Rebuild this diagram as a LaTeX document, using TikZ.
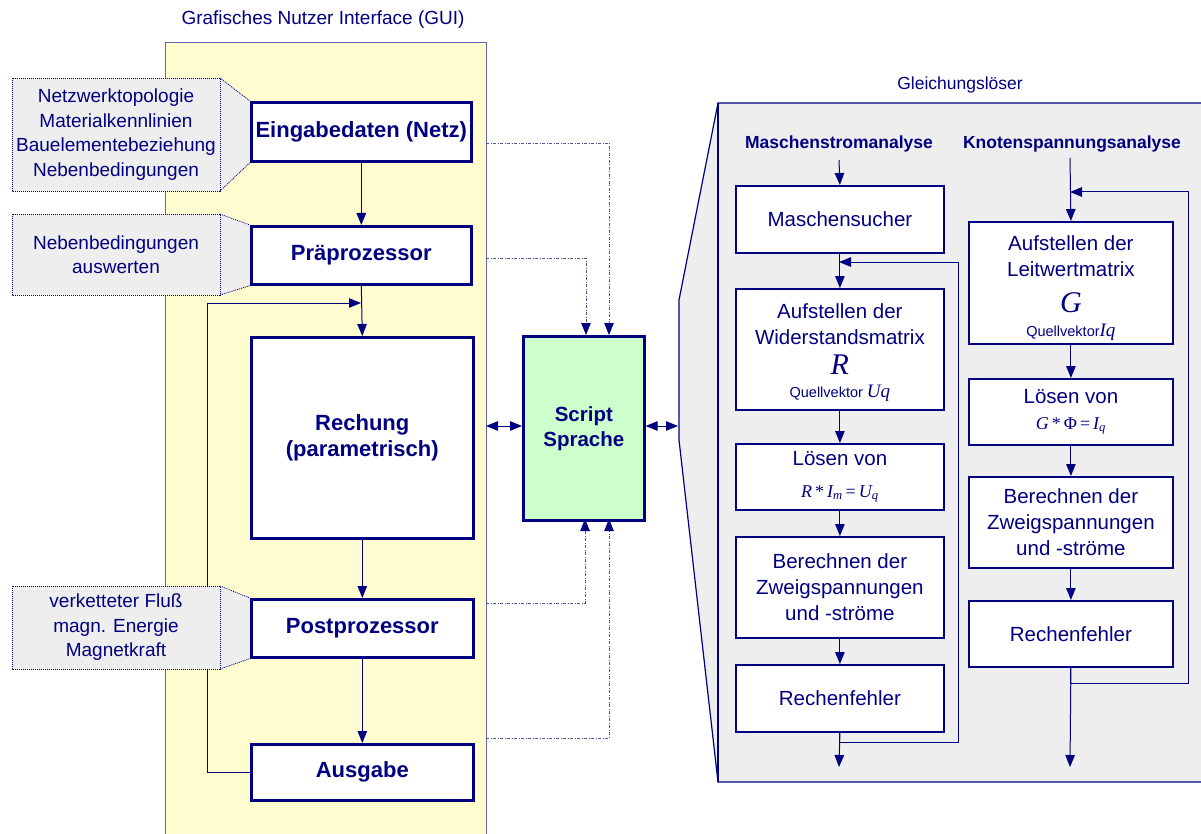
\documentclass[tikz,border=0pt]{standalone}
\usepackage{fontspec}
\setmainfont{Liberation Sans}
\newfontfamily\tms{Liberation Serif}
\usetikzlibrary{arrows.meta}
\definecolor{navy}{RGB}{0,0,128}
\definecolor{guiyel}{RGB}{255,252,208}
\definecolor{callg}{RGB}{238,238,238}
\definecolor{scrg}{RGB}{204,255,204}
\definecolor{framec}{RGB}{100,100,170}
\definecolor{dashc}{RGB}{80,80,160}
\newcommand{\fs}[2]{\fontsize{#1}{#2}\selectfont}
\begin{document}
\begin{tikzpicture}[x=1pt,y=-1pt,
  every node/.style={text=navy},
  tk/.style={draw=navy,line width=2.6pt,fill=white,font=\bfseries\fs{22}{26},inner sep=0pt,align=center},
  tn/.style={draw=navy,line width=1.8pt,fill=white,align=center,font=\fs{20.5}{26},inner sep=0pt},
  tip/.style={-{Triangle[length=12pt,width=9.5pt]}},
  ar/.style={draw=navy,line width=1pt,tip},
  dar/.style={draw=navy,line width=1pt,{Triangle[length=12pt,width=9.5pt]}-{Triangle[length=12pt,width=9.5pt]}},
  dd/.style={draw=dashc,line width=0.8pt,dash pattern=on 3pt off 1.5pt on 1pt off 1.5pt},
  dda/.style={dd,-{Triangle[length=12pt,width=9.5pt,fill=navy,color=navy]}},
  callout/.style={fill=callg},
  cdot/.style={draw=navy,line width=0.8pt,dash pattern=on 1pt off 1pt},
  ctext/.style={align=center,font=\fs{19}{24.5}},
]
\useasboundingbox (0,0) rectangle (1201,834);

% ---------- GUI frame ----------
\node[draw=framec,line width=1pt,fill=guiyel,minimum width=321pt,minimum height=800pt,anchor=north west,inner sep=0pt] (gui) at (165,42) {};
\node[font=\fs{19}{22}] (guititle) at (323,20) {Grafisches Nutzer Interface (GUI)};

\coordinate (gl1) at (207,303);
\coordinate (jG) at (361,303);

% ---------- GUI boxes ----------
\node[tk,minimum width=220pt,minimum height=59pt,anchor=north west] (ein) at (250,101) {Eingabedaten (Netz)};
\node[tk,minimum width=220pt,minimum height=58pt,anchor=north west] (pra) at (250,225) {Präprozessor};
\node[tk,minimum width=222pt,minimum height=201pt,anchor=north west] (rech) at (250,336) {Rechung\\(parametrisch)};
\node[tk,minimum width=222pt,minimum height=58pt,anchor=north west] (post) at (250,598) {Postprozessor};
\node[tk,minimum width=222pt,minimum height=56pt,anchor=north west] (aus) at (250,743) {Ausgabe};

\draw[ar] (aus.west) -| (gl1) -- (jG);

% ---------- callouts ----------
\fill[callout] (12,78) -- (220,78) -- (ein.north west) -- (ein.south west) -- (220,191) -- (12,191) -- cycle;
\draw[cdot] (12,78) rectangle (220,191);
\draw[cdot] (220,78) -- (ein.north west);
\draw[cdot] (220,191) -- (ein.south west);
\node[ctext] (c1) at (116,134.5) {Netzwerktopologie\\Materialkennlinien\\Bauelementebeziehung\\Nebenbedingungen};

\fill[callout] (12,214) -- (220,214) -- (pra.north west) -- (pra.south west) -- (220,295) -- (12,295) -- cycle;
\draw[cdot] (12,214) rectangle (220,295);
\draw[cdot] (220,214) -- (pra.north west);
\draw[cdot] (220,295) -- (pra.south west);
\node[ctext] (c2) at (116,254.5) {Nebenbedingungen\\auswerten};

\fill[callout] (12,586) -- (220,586) -- (post.north west) -- (post.south west) -- (220,669) -- (12,669) -- cycle;
\draw[cdot] (12,586) rectangle (220,669);
\draw[cdot] (220,586) -- (post.north west);
\draw[cdot] (220,669) -- (post.south west);
\node[ctext] (c3) at (116,627.5) {verketteter Fluß\\magn. Energie\\Magnetkraft};

% redraw box borders over callout fills
\node[tk,minimum width=220pt,minimum height=59pt,anchor=north west] at (250,101) {Eingabedaten (Netz)};
\node[tk,minimum width=220pt,minimum height=58pt,anchor=north west] at (250,225) {Präprozessor};
\node[tk,minimum width=222pt,minimum height=58pt,anchor=north west] at (250,598) {Postprozessor};

% GUI arrows
\draw[ar] (ein.south) -- (pra.north);
\draw[ar] (pra.south) -- (rech.north);
\draw[ar] (rech.south) -- (post.north);
\draw[ar] (post.south) -- (aus.north);

% ---------- Script box ----------
\node[draw=navy,line width=2.6pt,fill=scrg,minimum width=121pt,minimum height=184pt,anchor=north west,inner sep=0pt,align=center,font=\bfseries\fs{20.5}{25}] (scr) at (522,335) {Script\\Sprache};

\coordinate (g1) at (486,143);
\coordinate (g2) at (486,258);
\coordinate (g3) at (486,603);
\coordinate (g4) at (486,738);
\coordinate (s1) at (609,335);
\coordinate (s2) at (586,335);
\coordinate (s3) at (585,519);
\coordinate (s4) at (609,519);
\draw[dda] (g1) -| (s1);
\draw[dda] (g2) -| (s2);
\draw[dda] (g3) -| (s3);
\draw[dda] (g4) -| (s4);

\coordinate (gE) at (486,426);
\coordinate (lsE) at (678,426);
\draw[dar] (gE) -- (scr.west |- gE);
\draw[dar] (scr.east |- lsE) -- (lsE);

% ---------- Gleichungsloeser ----------
\fill[callg] (718,103) -- (1210,103) -- (1210,782) -- (718,782) -- (679,440) -- (679,300) -- cycle;
\draw[draw=navy,line width=1.2pt] (1210,103) -- (718,103) -- (679,300) -- (679,440) -- (718,782) -- (1210,782);
\draw[draw=navy,line width=1.2pt] (718,103) -- (718,782);
\node[font=\fs{17.5}{20}] (gltitle) at (960,85) {Gleichungslöser};

\node[font=\bfseries\fs{17.5}{20}] (hm) at (839,144) {Maschenstromanalyse};
\node[font=\bfseries\fs{17.5}{20}] (hk) at (1072,144) {Knotenspannungsanalyse};

% left column
\node[tn,minimum width=208pt,minimum height=67pt,anchor=north west] (msu) at (735,185) {Maschensucher};
\node[tn,minimum width=208pt,minimum height=121pt,anchor=north west] (awm) at (735,288) {\rule{0pt}{22pt}Aufstellen der\\Widerstandsmatrix\\[4pt]{\tms\itshape\fs{30}{30}R}\\[-3pt]{\fs{14.5}{16}Quellvektor {\tms\itshape\fs{19}{19}Uq}}};
\node[tn,minimum width=208pt,minimum height=66pt,anchor=north west] (lsr) at (735,443) {Lösen von\\[6pt]{\tms\itshape\fs{18}{18}R\,{\upshape*}\,I\textsubscript{m}\,{\upshape=}\,U\textsubscript{q}}};
\node[tn,minimum width=208pt,minimum height=101pt,anchor=north west] (bzr) at (735,536) {Berechnen der\\Zweigspannungen\\und -ströme};
\node[tn,minimum width=208pt,minimum height=67pt,anchor=north west] (rfl) at (735,664) {Rechenfehler};

% right column
\node[tn,minimum width=204pt,minimum height=122pt,anchor=north west] (alm) at (968,221) {\rule{0pt}{25pt}Aufstellen der\\Leitwertmatrix\\[10pt]{\tms\itshape\fs{30}{30}G}\\[-2pt]{\fs{14.5}{16}Quellvektor{\tms\itshape\fs{19}{19}Iq}}};
\node[tn,minimum width=204pt,minimum height=66pt,anchor=north west] (lsg) at (968,378) {Lösen von\\[0pt]{\tms\itshape\fs{18}{18}G\,{\upshape*}\,{\upshape Φ}\,{\upshape=}\,I\textsubscript{q}}};
\node[tn,minimum width=204pt,minimum height=91pt,anchor=north west] (bzg) at (968,476) {Berechnen der\\Zweigspannungen\\und -ströme};
\node[tn,minimum width=204pt,minimum height=66pt,anchor=north west] (rfg) at (968,600) {Rechenfehler};

% left column connectors
\coordinate (hmE) at (839,160);
\coordinate (jL) at (839,262);
\coordinate (lpL) at (958,742);
\coordinate (endL) at (839,767);
\draw[ar] (hmE) -- (msu.north);
\draw[ar] (msu.south) -- (awm.north);
\draw[ar] (rfl.south) |- (lpL) |- (jL);
\draw[ar] (awm.south) -- (lsr.north);
\draw[ar] (lsr.south) -- (bzr.north);
\draw[ar] (bzr.south) -- (rfl.north);
\draw[ar] (rfl.south) -- (endL);

% right column connectors
\coordinate (hkE) at (1070,158);
\coordinate (jR) at (1070,192);
\coordinate (lpR) at (1188,683);
\coordinate (endR) at (1070,767);
\draw[ar] (hkE) -- (alm.north);
\draw[ar] (rfg.south) |- (lpR) |- (jR);
\draw[ar] (alm.south) -- (lsg.north);
\draw[ar] (lsg.south) -- (bzg.north);
\draw[ar] (bzg.south) -- (rfg.north);
\draw[ar] (rfg.south) -- (endR);
\end{tikzpicture}
\end{document}
